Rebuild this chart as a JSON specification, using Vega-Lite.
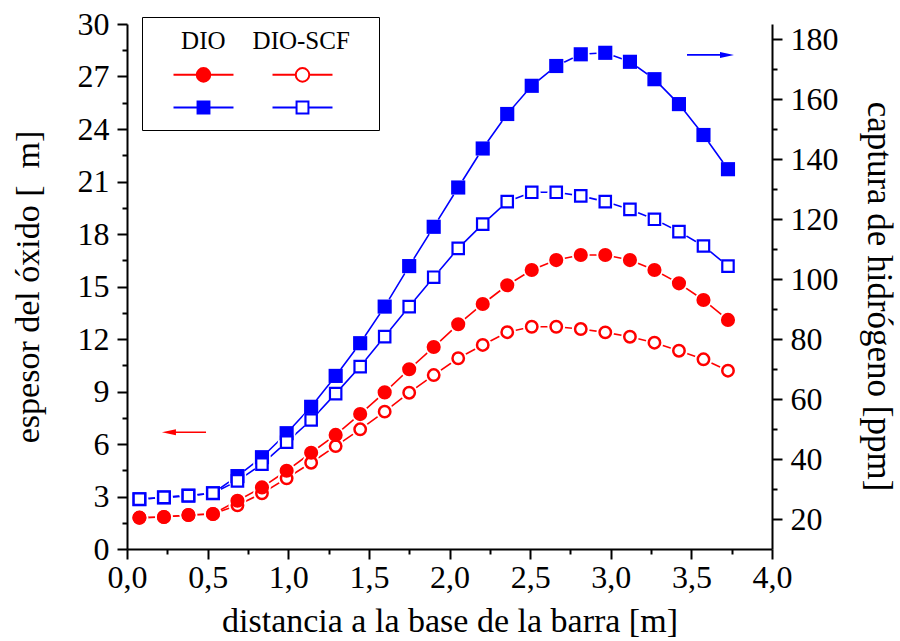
{
  "$schema": "https://vega.github.io/schema/vega-lite/v6.json",
  "width": 645,
  "height": 525,
  "autosize": {"type": "none"},
  "padding": {"left": 127, "top": 24, "right": 128, "bottom": 92},
  "background": "white",
  "config": {
    "view": {"stroke": null},
    "font": "Liberation Serif",
    "axis": {
      "labelFont": "Liberation Serif",
      "titleFont": "Liberation Serif",
      "labelColor": "black",
      "titleColor": "black",
      "domainColor": "black",
      "tickColor": "black",
      "domainWidth": 2,
      "tickWidth": 2,
      "labelFontSize": 32,
      "titleFontSize": 34,
      "titleFontWeight": "normal",
      "grid": false,
      "labelFlush": false,
      "labelOverlap": false,
      "labelBound": false
    }
  },
  "data": {
    "values": [
      {"d": 0.077, "ox_dio": 1.79, "ox_scf": 1.79, "h_dio": 26.6, "h_scf": 26.6},
      {"d": 0.229, "ox_dio": 1.83, "ox_scf": 1.83, "h_dio": 27.2, "h_scf": 27.2},
      {"d": 0.381, "ox_dio": 1.94, "ox_scf": 1.94, "h_dio": 27.8, "h_scf": 27.8},
      {"d": 0.533, "ox_dio": 2.0, "ox_scf": 2.0, "h_dio": 28.6, "h_scf": 28.6},
      {"d": 0.685, "ox_dio": 2.76, "ox_scf": 2.5, "h_dio": 34.3, "h_scf": 32.7},
      {"d": 0.837, "ox_dio": 3.52, "ox_scf": 3.18, "h_dio": 40.6, "h_scf": 38.3},
      {"d": 0.99, "ox_dio": 4.47, "ox_scf": 4.04, "h_dio": 48.6, "h_scf": 45.6},
      {"d": 1.142, "ox_dio": 5.5, "ox_scf": 4.93, "h_dio": 57.4, "h_scf": 53.0},
      {"d": 1.294, "ox_dio": 6.52, "ox_scf": 5.88, "h_dio": 67.7, "h_scf": 61.8},
      {"d": 1.446, "ox_dio": 7.71, "ox_scf": 6.84, "h_dio": 78.6, "h_scf": 70.8},
      {"d": 1.598, "ox_dio": 8.95, "ox_scf": 7.85, "h_dio": 90.8, "h_scf": 80.8},
      {"d": 1.75, "ox_dio": 10.27, "ox_scf": 8.93, "h_dio": 104.3, "h_scf": 90.8},
      {"d": 1.902, "ox_dio": 11.54, "ox_scf": 9.94, "h_dio": 117.4, "h_scf": 100.6},
      {"d": 2.054, "ox_dio": 12.84, "ox_scf": 10.9, "h_dio": 130.5, "h_scf": 110.2},
      {"d": 2.206, "ox_dio": 14.0, "ox_scf": 11.66, "h_dio": 143.5, "h_scf": 118.3},
      {"d": 2.358, "ox_dio": 15.07, "ox_scf": 12.39, "h_dio": 155.0, "h_scf": 125.8},
      {"d": 2.51, "ox_dio": 15.94, "ox_scf": 12.7, "h_dio": 164.4, "h_scf": 128.9},
      {"d": 2.662, "ox_dio": 16.51, "ox_scf": 12.7, "h_dio": 171.0, "h_scf": 128.9},
      {"d": 2.814, "ox_dio": 16.8, "ox_scf": 12.57, "h_dio": 174.9, "h_scf": 127.7},
      {"d": 2.966, "ox_dio": 16.8, "ox_scf": 12.38, "h_dio": 175.4, "h_scf": 125.8},
      {"d": 3.119, "ox_dio": 16.51, "ox_scf": 12.13, "h_dio": 172.4, "h_scf": 123.2},
      {"d": 3.271, "ox_dio": 15.94, "ox_scf": 11.79, "h_dio": 166.6, "h_scf": 119.9},
      {"d": 3.423, "ox_dio": 15.18, "ox_scf": 11.33, "h_dio": 158.3, "h_scf": 115.8},
      {"d": 3.575, "ox_dio": 14.23, "ox_scf": 10.84, "h_dio": 148.0, "h_scf": 111.0},
      {"d": 3.727, "ox_dio": 13.09, "ox_scf": 10.19, "h_dio": 136.6, "h_scf": 104.3}
    ]
  },
  "layer": [
    {
      "transform": [{"fold": ["ox_dio", "ox_scf"], "as": ["k", "v"]}],
      "encoding": {
        "x": {"field": "d", "type": "quantitative", "scale": {"domain": [0, 4], "nice": false, "zero": false},
          "axis": {
            "values": [0, 0.25, 0.5, 0.75, 1, 1.25, 1.5, 1.75, 2, 2.25, 2.5, 2.75, 3, 3.25, 3.5, 3.75, 4],
            "title": "distancia a la base de la barra [m]",
            "labelExpr": "(datum.value*2) % 1 != 0 ? '' : replace(format(datum.value, '.1f'), '.', ',')",
            "tickSize": {"condition": {"test": "(datum.value*2) % 1 != 0", "value": 5}, "value": 10},
            "labelPadding": 3,
            "titlePadding": 11
          }},
        "y": {"field": "v", "type": "quantitative", "scale": {"domain": [0, 30], "nice": false, "zero": false},
          "axis": {
            "orient": "left",
            "values": [0, 1.5, 3, 4.5, 6, 7.5, 9, 10.5, 12, 13.5, 15, 16.5, 18, 19.5, 21, 22.5, 24, 25.5, 27, 28.5, 30],
            "title": "espesor del óxido [\u00a0\u00a0m]",
            "labelExpr": "datum.value % 3 != 0 ? '' : format(datum.value, 'd')",
            "tickSize": {"condition": {"test": "datum.value % 3 != 0", "value": 5}, "value": 10},
            "labelPadding": 8,
            "titlePadding": 32
          }}
      },
      "layer": [
        {
          "mark": {"type": "line", "color": "#ff0000", "strokeWidth": 1.6},
          "encoding": {"detail": {"field": "k", "type": "nominal"}}
        },
        {
          "mark": {"type": "point", "shape": "circle", "filled": true, "color": "white", "strokeWidth": 0, "size": 314, "opacity": 1}
        },
        {
          "transform": [{"filter": "datum.k == 'ox_scf'"}],
          "mark": {"type": "point", "shape": "circle", "filled": true, "fill": "white", "stroke": "#ff0000", "strokeWidth": 2.5, "size": 130, "opacity": 1}
        },
        {
          "transform": [{"filter": "datum.k == 'ox_dio'"}],
          "mark": {"type": "point", "shape": "circle", "filled": true, "color": "#ff0000", "strokeWidth": 0, "size": 200, "opacity": 1}
        }
      ]
    },
    {
      "transform": [{"fold": ["h_dio", "h_scf"], "as": ["k", "v"]}],
      "encoding": {
        "x": {"field": "d", "type": "quantitative"},
        "y": {"field": "v", "type": "quantitative", "scale": {"domain": [10, 185], "nice": false, "zero": false},
          "axis": {
            "orient": "right",
            "values": [20, 30, 40, 50, 60, 70, 80, 90, 100, 110, 120, 130, 140, 150, 160, 170, 180],
            "title": "captura de hidrógeno [ppm]",
            "titleFontSize": 35,
            "titleY": 272,
            "labelExpr": "datum.value % 20 != 0 ? '' : format(datum.value, 'd')",
            "tickSize": {"condition": {"test": "datum.value % 20 != 0", "value": 5}, "value": 10},
            "labelPadding": 8,
            "titlePadding": 22
          }}
      },
      "layer": [
        {
          "mark": {"type": "line", "color": "#0000ff", "strokeWidth": 1.6},
          "encoding": {"detail": {"field": "k", "type": "nominal"}}
        },
        {
          "mark": {"type": "point", "shape": "circle", "filled": true, "color": "white", "strokeWidth": 0, "size": 314, "opacity": 1}
        },
        {
          "transform": [{"filter": "datum.k == 'h_dio'"}],
          "mark": {"type": "point", "shape": "square", "filled": true, "color": "#0000ff", "strokeWidth": 0, "size": 200, "opacity": 1}
        },
        {
          "transform": [{"filter": "datum.k == 'h_scf'"}],
          "mark": {"type": "point", "shape": "square", "filled": true, "fill": "white", "stroke": "#0000ff", "strokeWidth": 2.2, "size": 130, "opacity": 1}
        },
        {
          "transform": [{"filter": "datum.k == 'h_dio' && datum.d < 0.1"}],
          "mark": {"type": "rule", "color": "#0000ff", "strokeWidth": 1.6},
          "encoding": {
            "x": {"datum": 3.473, "type": "quantitative"},
            "x2": {"datum": 3.72},
            "y": {"datum": 174.7, "type": "quantitative"}
          }
        },
        {
          "transform": [{"filter": "datum.k == 'h_dio' && datum.d < 0.1"}],
          "mark": {"type": "point", "shape": "M1,0L-1,-0.43L-1,0.43Z", "filled": true, "color": "#0000ff", "strokeWidth": 0, "size": 196, "opacity": 1},
          "encoding": {
            "x": {"datum": 3.721, "type": "quantitative"},
            "y": {"datum": 174.7, "type": "quantitative"}
          }
        },
        {
          "transform": [{"filter": "datum.k == 'h_dio' && datum.d < 0.1"}],
          "mark": {"type": "rule", "color": "#ff0000", "strokeWidth": 1.6},
          "encoding": {
            "x": {"datum": 0.254, "type": "quantitative"},
            "x2": {"datum": 0.49},
            "y": {"datum": 48.9, "type": "quantitative"}
          }
        },
        {
          "transform": [{"filter": "datum.k == 'h_dio' && datum.d < 0.1"}],
          "mark": {"type": "point", "shape": "M-1,0L1,-0.43L1,0.43Z", "filled": true, "color": "#ff0000", "strokeWidth": 0, "size": 196, "opacity": 1},
          "encoding": {
            "x": {"datum": 0.26, "type": "quantitative"},
            "y": {"datum": 48.9, "type": "quantitative"}
          }
        }
      ]
    },
    {
      "data": {"values": [{"s": "a"}, {"s": "b"}, {"s": "c"}, {"s": "d"}]},
      "mark": {"type": "point", "opacity": 0, "size": 1089, "strokeWidth": 2},
      "encoding": {
        "shape": {"field": "s", "type": "nominal",
          "scale": {"domain": ["a", "b", "c", "d"], "range": [
            "M-1.818,0L-0.41,0M0.41,0L1.818,0M-0.41,0A0.41,0.41,0,1,1,0.41,0A0.41,0.41,0,1,1,-0.41,0Z",
            "M-1.818,0L-0.36,0M0.36,0L1.818,0M-0.36,-0.36L0.36,-0.36L0.36,0.36L-0.36,0.36Z",
            "M-1.818,0L-0.41,0M0.41,0L1.818,0M-0.41,0A0.41,0.41,0,1,1,0.41,0A0.41,0.41,0,1,1,-0.41,0Z",
            "M-1.818,0L-0.36,0M0.36,0L1.818,0M-0.36,-0.36L0.36,-0.36L0.36,0.36L-0.36,0.36Z"]},
          "legend": {"orient": "none", "legendX": 15, "legendY": -7, "padding": 12, "strokeColor": "black", "fillColor": "white",
            "columns": 2, "columnPadding": 15, "rowPadding": 4, "symbolSize": 1089, "symbolStrokeWidth": 2, "symbolOpacity": 1, "symbolOffset": 32,
            "labelExpr": "''", "labelOffset": 0, "titleLimit": 600,
            "title": "\u200d\u00a0\u00a0\u00a0\u00a0\u200aDIO\u00a0\u00a0\u00a0\u00a0\u200aDIO-SCF\u00a0\u00a0\u200a\u200a\u200d", "titleFont": "Liberation Serif", "titleFontSize": 25, "titleFontWeight": "normal", "titleColor": "black", "titlePadding": 3}},
        "fill": {"field": "s", "type": "nominal",
          "scale": {"domain": ["a", "b", "c", "d"], "range": ["#ff0000", "#0000ff", "#ffffff", "#ffffff"]},
          "legend": {"orient": "none", "legendX": 15, "legendY": -7, "padding": 12, "strokeColor": "black", "fillColor": "white",
            "columns": 2, "columnPadding": 15, "rowPadding": 4, "symbolSize": 1089, "symbolStrokeWidth": 2, "symbolOpacity": 1, "symbolOffset": 32,
            "labelExpr": "''", "labelOffset": 0, "titleLimit": 600,
            "title": "\u200d\u00a0\u00a0\u00a0\u00a0\u200aDIO\u00a0\u00a0\u00a0\u00a0\u200aDIO-SCF\u00a0\u00a0\u200a\u200a\u200d", "titleFont": "Liberation Serif", "titleFontSize": 25, "titleFontWeight": "normal", "titleColor": "black", "titlePadding": 3}},
        "stroke": {"field": "s", "type": "nominal",
          "scale": {"domain": ["a", "b", "c", "d"], "range": ["#ff0000", "#0000ff", "#ff0000", "#0000ff"]},
          "legend": {"orient": "none", "legendX": 15, "legendY": -7, "padding": 12, "strokeColor": "black", "fillColor": "white",
            "columns": 2, "columnPadding": 15, "rowPadding": 4, "symbolSize": 1089, "symbolStrokeWidth": 2, "symbolOpacity": 1, "symbolOffset": 32,
            "labelExpr": "''", "labelOffset": 0, "titleLimit": 600,
            "title": "\u200d\u00a0\u00a0\u00a0\u00a0\u200aDIO\u00a0\u00a0\u00a0\u00a0\u200aDIO-SCF\u00a0\u00a0\u200a\u200a\u200d", "titleFont": "Liberation Serif", "titleFontSize": 25, "titleFontWeight": "normal", "titleColor": "black", "titlePadding": 3}}
      }
    }
  ],
  "resolve": {"scale": {"y": "independent"}}
}
